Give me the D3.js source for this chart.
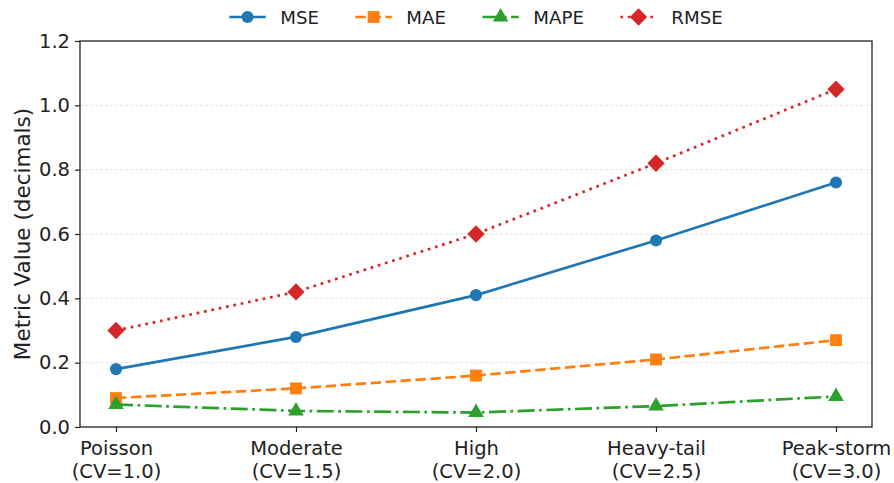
<!DOCTYPE html>
<html><head><meta charset="utf-8">
<script src="https://cdn.jsdelivr.net/npm/d3@7"></script>
<style>body{margin:0;background:#fff}svg{display:block}text{font-family:"DejaVu Sans",sans-serif;fill:#222}</style>
</head><body>
<svg id="c" width="894" height="483"></svg>
<script>
const categories = ["Poisson\n(CV=1.0)","Moderate\n(CV=1.5)","High\n(CV=2.0)","Heavy-tail\n(CV=2.5)","Peak-storm\n(CV=3.0)"];
const mse  = [0.18, 0.28, 0.41, 0.58, 0.76];
const mae  = [0.09, 0.12, 0.16, 0.21, 0.27];
const mape = [0.07, 0.05, 0.045, 0.065, 0.095];
const rmse = [0.30, 0.42, 0.60, 0.82, 1.05];
const yTicks = [0.0, 0.2, 0.4, 0.6, 0.8, 1.0, 1.2];
const seriesNames = ["MSE","MAE","MAPE","RMSE"];

const diamond = { draw(ctx, size) { const r = Math.sqrt(size / 2); ctx.moveTo(0, -r); ctx.lineTo(r, 0); ctx.lineTo(0, r); ctx.lineTo(-r, 0); ctx.closePath(); } };

const series = [
  {name:seriesNames[0], values:mse,  color:"#1f77b4", dash:null,               marker:d3.symbolCircle,   size:115},
  {name:seriesNames[1], values:mae,  color:"#ff7f0e", dash:"10.5,4.5",         marker:d3.symbolSquare,   size:140},
  {name:seriesNames[2], values:mape, color:"#2ca02c", dash:"17,4.5,2.7,4.5",   marker:d3.symbolTriangle, size:105},
  {name:seriesNames[3], values:rmse, color:"#d62728", dash:"2.7,4.8",          marker:diamond,           size:150}
];

const svg = d3.select("#c");
const L = 80, R = 872, T = 41, B = 427;
const x = d3.scaleLinear().domain([-0.2, categories.length - 1 + 0.2]).range([L, R]);
const y = d3.scaleLinear().domain([0, 1.2]).range([B, T]);

// grid
svg.append("g").selectAll("line").data(yTicks.slice(1, -1)).join("line")
  .attr("x1", L).attr("x2", R).attr("y1", d => y(d)).attr("y2", d => y(d))
  .attr("stroke", "#cccccc").attr("stroke-width", 0.8).attr("stroke-dasharray", "3,2").attr("opacity", 0.7);

// y axis
const ya = svg.append("g").attr("transform", `translate(${L},0)`)
  .call(d3.axisLeft(y).tickValues(yTicks).tickFormat(d3.format(".1f")).tickSize(5).tickPadding(5));
ya.select(".domain").remove();
ya.selectAll("line").attr("stroke", "#222").attr("stroke-width", 1.2);
ya.selectAll("text").attr("font-size", 19.5).attr("font-family", "DejaVu Sans").attr("fill", "#222");

// x axis
const xa = svg.append("g").attr("transform", `translate(0,${B})`)
  .call(d3.axisBottom(x).tickValues(d3.range(categories.length)).tickFormat("").tickSize(5));
xa.select(".domain").remove();
xa.selectAll("line").attr("stroke", "#222").attr("stroke-width", 1.2);
xa.selectAll(".tick").each(function(d) {
  const lines = categories[d].split("\n");
  const t = d3.select(this).append("text").attr("text-anchor", "middle")
    .attr("font-size", 19.5).attr("fill", "#222");
  lines.forEach((s, i) => t.append("tspan").attr("x", 0).attr("y", 28 + i * 23).text(s));
});

// frame
svg.append("rect").attr("x", L).attr("y", T).attr("width", R - L).attr("height", B - T)
  .attr("fill", "none").attr("stroke", "#222").attr("stroke-width", 1.3);

// y label
svg.append("text").attr("transform", `translate(30,${(T + B) / 2}) rotate(-90)`)
  .attr("text-anchor", "middle").attr("font-size", 21.5).text("Metric Value (decimals)");

// series
const line = d3.line().x((d, i) => x(i)).y(d => y(d));
series.forEach(s => {
  svg.append("path").datum(s.values).attr("d", line).attr("fill", "none")
    .attr("stroke", s.color).attr("stroke-width", 2.7)
    .attr("stroke-dasharray", s.dash);
  svg.append("g").selectAll("path").data(s.values).join("path")
    .attr("transform", (d, i) => `translate(${x(i)},${y(d)})`)
    .attr("d", d3.symbol().type(s.marker).size(s.size)).attr("fill", s.color);
});

// legend (matplotlib-like layout, centred over the axes)
const fs = 18.2, handle = 2.0 * fs, pad = 0.8 * fs, colsp = 2.0 * fs;
const lg = svg.append("g");
let cx = 0;
series.forEach((s, i) => {
  const g = lg.append("g").attr("transform", `translate(${cx},0)`);
  g.append("line").attr("x1", 0).attr("x2", handle).attr("y1", 0).attr("y2", 0)
    .attr("stroke", s.color).attr("stroke-width", 2.7).attr("stroke-dasharray", s.dash);
  g.append("path").attr("transform", `translate(${handle / 2},0)`)
    .attr("d", d3.symbol().type(s.marker).size(s.size)).attr("fill", s.color);
  const t = g.append("text").attr("x", handle + pad).attr("y", 0).attr("dy", "0.36em").attr("font-size", fs).text(s.name);
  cx += handle + pad + t.node().getComputedTextLength() + (i < series.length - 1 ? colsp : 0);
});
lg.attr("transform", `translate(${(L + R) / 2 - cx / 2},17)`);
</script>
</body></html>
